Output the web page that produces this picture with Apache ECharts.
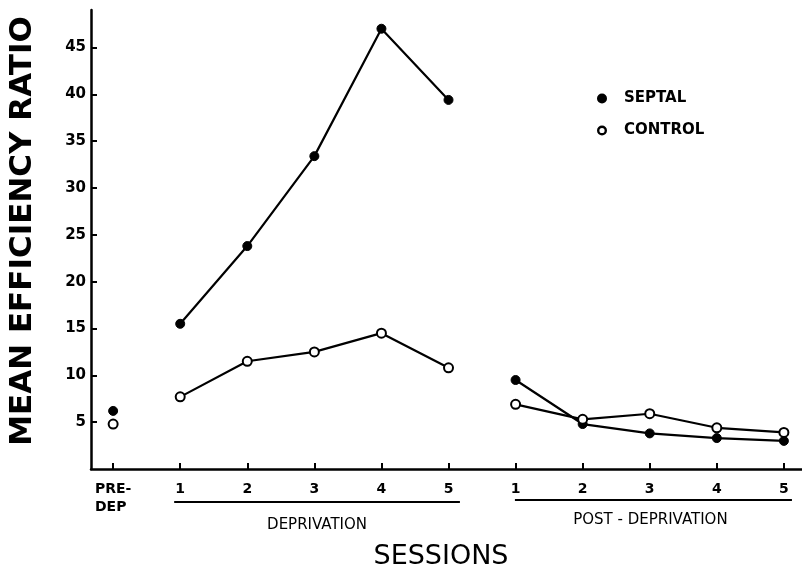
<!DOCTYPE html>
<html>
<head>
<meta charset="utf-8">
<script src="https://cdn.jsdelivr.net/npm/echarts@6/dist/echarts.min.js"></script>
<style>html,body{margin:0;padding:0;background:#fff}#c{width:802px;height:572px}</style>
</head>
<body>
<div id="c"></div>
<script>
// Session positions (0 = pre-deprivation, 1-5 deprivation, 6-10 post-deprivation)
const sessionPos = [0, 1, 2, 3, 4, 5, 6, 7, 8, 9, 10];
const sessionLabels = ['PRE-\nDEP ', '1', '2', '3', '4', '5', '1', '2', '3', '4', '5'];
const septal  = [6.2, 15.5, 23.8, 33.4, 47.0, 39.4, 9.5, 4.8, 3.8, 3.3, 3.0];
const control = [4.8, 7.7, 11.5, 12.5, 14.5, 10.8, 6.9, 5.3, 5.9, 4.4, 3.9];
const yTicks = [5, 10, 15, 20, 25, 30, 35, 40, 45];
const phases = [
  {name: 'DEPRIVATION', from: 0.91, to: 5.17},
  {name: 'POST - DEPRIVATION', from: 5.99, to: 10.12}
];

const FONT = 'DejaVu Sans';
const chart = echarts.init(document.getElementById('c'), null, {renderer: 'canvas'});

function pts(arr, a, b) {
  const out = [];
  for (let i = a; i <= b; i++) out.push([sessionPos[i], arr[i]]);
  return out;
}
const filled = {color: '#000', borderColor: '#000', borderWidth: 1, opacity: 1};
const open = {color: '#fff', borderColor: '#000', borderWidth: 2, opacity: 1};
function mk(name, arr, style, size) {
  const common = {name, symbol: 'circle', symbolSize: size, itemStyle: style,
    lineStyle: {color: '#000', width: 2.2}, animation: false, silent: true, z: name === 'CONTROL' ? 3 : 2};
  return [
    Object.assign({type: 'scatter', data: pts(arr, 0, 0)}, common),
    Object.assign({type: 'line', data: pts(arr, 1, 5)}, common),
    Object.assign({type: 'line', data: pts(arr, 6, 10)}, common)
  ];
}

const option = {
  backgroundColor: '#fff',
  animation: false,
  grid: {left: 91, right: 0, top: 10, bottom: 103, containLabel: false},
  xAxis: {
    type: 'value', min: -0.33, max: 10.27,
    axisLine: {show: true, onZero: false, lineStyle: {color: '#000', width: 2.5}},
    axisTick: {show: true, inside: true, length: 6, customValues: sessionPos, lineStyle: {color: '#000', width: 2}},
    axisLabel: {show: true, customValues: sessionPos, margin: 11, color: '#000',
      fontFamily: FONT, fontSize: 14, fontWeight: 'bold', lineHeight: 18,
      formatter: v => sessionLabels[Math.round(v)]},
    splitLine: {show: false}
  },
  yAxis: {
    type: 'value', min: 0, max: 49,
    axisLine: {show: true, onZero: false, lineStyle: {color: '#000', width: 2.5}},
    axisTick: {show: true, inside: true, length: 6, customValues: yTicks, lineStyle: {color: '#000', width: 2}},
    axisLabel: {show: true, customValues: yTicks, margin: 5, color: '#000',
      fontFamily: FONT, fontSize: 15, fontWeight: 'bold'},
    splitLine: {show: false}
  },
  legend: {
    orient: 'vertical', left: 592, top: 86, itemWidth: 10, itemHeight: 10, itemGap: 17,
    selectedMode: false,
    textStyle: {color: '#000', fontFamily: FONT, fontSize: 15, fontWeight: 'bold', padding: [0, 0, 0, 12]},
    data: [
      {name: 'SEPTAL', icon: 'circle', itemStyle: {color: '#000', borderWidth: 0, opacity: 1}},
      {name: 'CONTROL', icon: 'path://M0,0 m-5,0 a5,5 0 1,0 10,0 a5,5 0 1,0 -10,0 M-2.6,0 a2.6,2.6 0 1,1 5.2,0 a2.6,2.6 0 1,1 -5.2,0 Z', itemStyle: {color: '#000', borderWidth: 0, opacity: 1}}
    ]
  },
  series: [].concat(mk('SEPTAL', septal, filled, 9), mk('CONTROL', control, open, 9))
};
chart.setOption(option);

// decorations placed with the chart's own scale
const graphics = [];
const yBar = [502, 500];
const yTxt = [525, 520];
phases.forEach((p, i) => {
  const x1 = chart.convertToPixel({xAxisIndex: 0}, p.from);
  const x2 = chart.convertToPixel({xAxisIndex: 0}, p.to);
  graphics.push({type: 'line', shape: {x1, y1: yBar[i], x2, y2: yBar[i]}, style: {stroke: '#000', lineWidth: 2}});
  graphics.push({type: 'text', x: (x1 + x2) / 2 + (i === 0 ? 0 : -3), y: yTxt[i],
    style: {text: p.name, fill: '#000', font: '15px "' + FONT + '"', align: 'center', verticalAlign: 'middle'}});
});
graphics.push({type: 'text', x: 441, y: 557,
  style: {text: 'SESSIONS', fill: '#000', font: '27px "' + FONT + '"', align: 'center', verticalAlign: 'middle'}});
graphics.push({type: 'text', x: 23, y: 231, rotation: Math.PI / 2,
  style: {text: 'MEAN EFFICIENCY RATIO', fill: '#000', font: 'bold 31px "' + FONT + '"', align: 'center', verticalAlign: 'middle'}});
chart.setOption({graphic: graphics});
</script>
</body>
</html>
